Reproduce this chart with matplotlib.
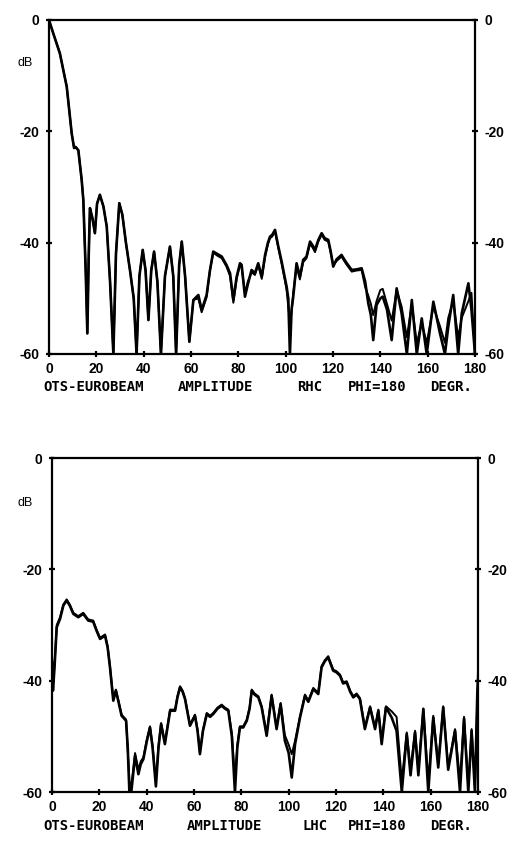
import matplotlib
matplotlib.use("Agg")
import matplotlib.pyplot as plt

# angle (deg) and amplitude (dB)
rhc_theta = [0, 1.8, 4.6, 7.5, 9.6, 10.6, 11.2, 12.4, 13.8, 14.5, 15.5, 16.2, 16.8, 17.3, 18.3, 19.4,
             20.3, 21.5, 23, 24.4, 25.8, 27.2, 28.3, 29.7, 31, 32.5, 34.2, 35.8, 37.0, 38.2,
             39.6, 40.8, 42.0, 43.2, 44.4, 45.8, 47.3, 49, 51.1, 52.5, 53.7, 55, 56.1, 57.5,
             59.3, 61.0, 63.1, 64.5, 66.6, 68, 69.4, 71, 73.0, 75, 76.5, 77.9, 79.3, 80.7,
             81.4, 82.8, 84, 85.6, 87, 88.4, 89.9, 91.3, 92.5, 93.4, 94.3, 95.5, 96.8, 98.3,
             99.5, 100.4, 101.1, 101.8, 102.5, 103.2, 104.6, 106.0, 107.4, 108.8, 110.3,
             111.4, 112.4, 113.8, 115.2, 116.5, 118.0, 119, 120.1, 121.5, 123.6, 125.5,
             127.9, 130, 132.1, 133.6, 134.9, 136, 137.0, 138.4, 140, 141.0, 142.8, 144.8,
             146.9, 149.0, 151.2, 153.3, 155.4, 157.5, 159.6, 162.4, 165.2, 167.3, 168.7,
             170.8, 172.9, 174.4, 177.2, 178.5, 180]
rhc_meas = [0, -2.4, -6.0, -12.0, -20.4, -23, -22.8, -23.4, -28.7, -32.3, -45, -56.3, -42, -33.8, -35.5,
            -38.3, -33, -31.4, -33.5, -37.1, -47, -60, -42, -32.9, -35, -40, -44.9, -50, -60,
            -46, -41.3, -45, -53.9, -45, -41.6, -47, -60, -46, -40.7, -46, -60, -44, -39.8,
            -46, -57.8, -50.3, -49.4, -52.1, -49.4, -45, -41.6, -42, -42.5, -44, -45.5, -50.3,
            -46.1, -43.7, -44.0, -49.7, -47.5, -44.9, -45.5, -43.7, -46.1, -42.2, -40, -38.9,
            -38.6, -37.7, -40.5, -43.4, -46, -47.9, -50, -60, -52, -49.7, -43.7, -46.1, -43.1,
            -42.5, -39.8, -40.5, -41.3, -39.5, -38.3, -39.2, -39.5, -41.5, -44.3, -43, -42.2,
            -43.5, -44.9, -44.8, -44.6, -47, -50.9, -53, -57.5, -51.2, -50, -49.7, -52, -57.5,
            -48.2, -52.7, -60, -50.3, -60, -53.6, -60, -50.6, -56.3, -60, -55.1, -49.4, -60,
            -52.7, -47.3, -52, -60]
rhc_calc = [0, -2.4, -6.0, -12.0, -20.4, -23, -22.8, -23.4, -28.7, -32.3, -45, -56.3, -42, -33.8, -35.5,
            -38.3, -33, -31.4, -33.5, -37.1, -47, -60, -42, -32.9, -35, -40, -44.9, -50, -60,
            -46, -41.3, -45, -53.9, -45, -41.6, -47, -60, -46, -40.7, -46, -60, -44, -39.8,
            -46, -57.8, -50.3, -50.0, -52.5, -49.8, -45, -41.8, -42.3, -42.8, -44.3, -46.0,
            -50.8, -46.5, -44.0, -44.5, -49.0, -47.0, -45.3, -45.8, -44.0, -46.5, -42.6, -40.3,
            -39.2, -38.9, -38.0, -40.8, -43.8, -46.4, -48.5, -51.5, -54, -52.5, -49.0, -44.3,
            -46.6, -43.5, -42.8, -40.2, -40.9, -41.7, -39.8, -38.6, -39.5, -39.8, -41.8, -44.0,
            -43.3, -42.5, -43.8, -45.2, -45.0, -44.9, -48, -49.5, -51, -53, -50.5, -48.5, -48.3,
            -51, -54, -48.5, -51.5, -57, -51, -58, -54.5, -58, -51.5, -55, -58, -53.5, -50.5,
            -57, -53.5, -50.5, -49, -60]

lhc_theta = [0, 0.4, 1, 2.0, 3.4, 4.8, 6.2, 7.5, 9, 11.1, 13.2, 15.3, 17.4, 18.8, 20.3, 22.4,
             23.5, 24.5, 25.9, 27.0, 28.2, 29.4, 31.3, 32, 32.7, 33.5, 35.1, 36.5, 37.5, 38.6,
             40, 41.4, 42.5, 43.9, 45, 46.1, 47.7, 49.9, 52.0, 53, 54.1, 55.2, 56.2, 58.3,
             60.4, 61.5, 62.5, 63.8, 65.4, 66.8, 68.1, 70, 71.7, 73, 74.5, 76, 77.3, 78.3,
             79.4, 80.8, 82.3, 83.5, 84.4, 85.6, 87.2, 88.6, 90.7, 92.8, 94.9, 96.6, 98.4,
             100, 101.3, 102.7, 104.8, 106.9, 108.3, 110.4, 112.5, 113.9, 115.3, 116.7, 118.8,
             120.2, 121.7, 123, 124.5, 126, 127.3, 128.7, 130.1, 132.2, 134.4, 136.5, 137.9,
             139.3, 141.1, 143.5, 145.6, 147.8, 149.9, 151.5, 153.4, 154.8, 156.9, 159.0,
             161.1, 163.2, 165.3, 167.4, 170.3, 172.4, 174.1, 175.9, 177.3, 178.7, 179.7, 180]
lhc_meas = [-36.7, -41.8, -38, -30.4, -28.9, -26.5, -25.6, -26.5, -28, -28.6, -28.0, -29.2,
            -29.4, -31, -32.5, -31.9, -34, -37.6, -43.6, -41.8, -44, -46.3, -47.2, -52, -60,
            -60, -53.5, -56.8, -55, -54.1, -51, -48.4, -52, -59, -52, -47.8, -51.4, -45.4,
            -45.4, -43, -41.2, -42, -43.3, -48.1, -46.3, -49, -53.2, -49, -46.0, -46.5, -46.0,
            -45, -44.5, -45, -45.4, -50, -60, -52, -48.4, -48.4, -47.2, -45, -41.8, -42.5,
            -43.0, -44.8, -49.9, -42.7, -48.7, -44.2, -50.8, -53, -57.4, -51.4, -46.6, -42.7,
            -43.8, -41.5, -42.4, -37.6, -36.5, -35.8, -38.2, -38.5, -39.1, -40.5, -40.3, -42,
            -43.0, -42.5, -43.3, -48.7, -44.8, -48.7, -45.4, -51.4, -44.8, -46.6, -49.0, -60,
            -49.6, -57, -49.3, -57, -45.1, -60, -46.6, -55.6, -44.8, -56, -49, -60, -46.8, -60,
            -49, -60, -42.4, -40]
lhc_calc = [-36.0, -41.0, -37.5, -30.0, -28.6, -26.3, -25.4, -26.3, -27.8, -28.4, -27.8, -29.0,
            -29.2, -30.8, -32.3, -31.7, -33.8, -37.4, -43.3, -41.6, -43.8, -46.1, -47.0, -52.5,
            -58, -59, -53.0, -56.0, -54.5, -53.8, -50.7, -48.2, -51.7, -58, -51.7, -47.6, -51.1,
            -45.2, -45.2, -42.8, -41.0, -41.8, -43.1, -47.9, -46.1, -48.8, -52.8, -48.8, -45.8,
            -46.3, -45.8, -44.8, -44.3, -44.8, -45.2, -49.5, -58, -51.5, -48.2, -48.2, -47.0,
            -44.8, -41.6, -42.3, -42.8, -44.6, -49.5, -42.5, -48.4, -44.0, -49.8, -51.5, -53.2,
            -50.8, -46.4, -42.5, -43.6, -41.3, -42.2, -37.4, -36.3, -35.6, -38.0, -38.3, -38.9,
            -40.3, -40.1, -41.8, -42.8, -42.3, -43.1, -48.4, -44.6, -48.4, -45.2, -50.8, -44.6,
            -45.5, -46.5, -58, -49.3, -56, -49.0, -56, -45.0, -58, -46.3, -55, -44.6, -55.5,
            -48.7, -58, -46.5, -59, -48.7, -59, -43.5, -38]

captions = [
    [("OTS-EUROBEAM", 43), ("AMPLITUDE", 178), ("RHC", 297), ("PHI=180", 348), ("DEGR.", 430)],
    [("OTS-EUROBEAM", 43), ("AMPLITUDE", 187), ("LHC", 302), ("PHI=180", 348), ("DEGR.", 430)],
]

TICK_FONT = ["Liberation Sans", "DejaVu Sans"]
CAP_FONT = ["DejaVu Sans Mono", "DejaVu Sans"]

W, H = 517, 841
fig = plt.figure(figsize=(W / 100, H / 100), dpi=100)
fig.patch.set_facecolor("white")

panels = [
    (49, 354, rhc_theta, rhc_meas, rhc_calc, 387, 63),
    (52, 792, lhc_theta, lhc_meas, lhc_calc, 826, 503),
]

for i, (x0, ybot, th, a, b, cap_y, db_y) in enumerate(panels):
    ax = fig.add_axes([x0 / W, (H - ybot) / H, 426 / W, 334 / H])
    ax.plot(th, a, color="black", lw=1.9, solid_joinstyle="round")
    ax.plot(th, b, color="black", lw=1.4, solid_joinstyle="round")
    ax.set_xlim(0, 180)
    ax.set_ylim(-60, 0)
    ax.set_xticks(range(0, 181, 20))
    ax.set_yticks([0, -20, -40, -60])
    ax.set_yticklabels(["0", "-20", "-40", "-60"])
    for s in ax.spines.values():
        s.set_linewidth(1.6)
        s.set_color("black")
    ax.tick_params(axis="both", direction="inout", length=4, width=1.6,
                   labelsize=10, colors="black")
    ax.tick_params(axis="y", left=True, right=True, labelleft=True, labelright=True, pad=5)
    ax.tick_params(axis="x", top=False, pad=4)
    for lab in ax.get_xticklabels() + ax.get_yticklabels():
        lab.set_fontweight("bold")
        lab.set_family(TICK_FONT)
    ax.margins(0)

    fig.text(17 / W, 1 - db_y / H, "dB", fontsize=9, va="center", ha="left", family=TICK_FONT)
    for word, px in captions[i]:
        fig.text(px / W, 1 - cap_y / H, word, fontsize=10, fontweight="bold",
                 va="center", ha="left", family=CAP_FONT)

fig.savefig("out.png", dpi=100, facecolor="white")
